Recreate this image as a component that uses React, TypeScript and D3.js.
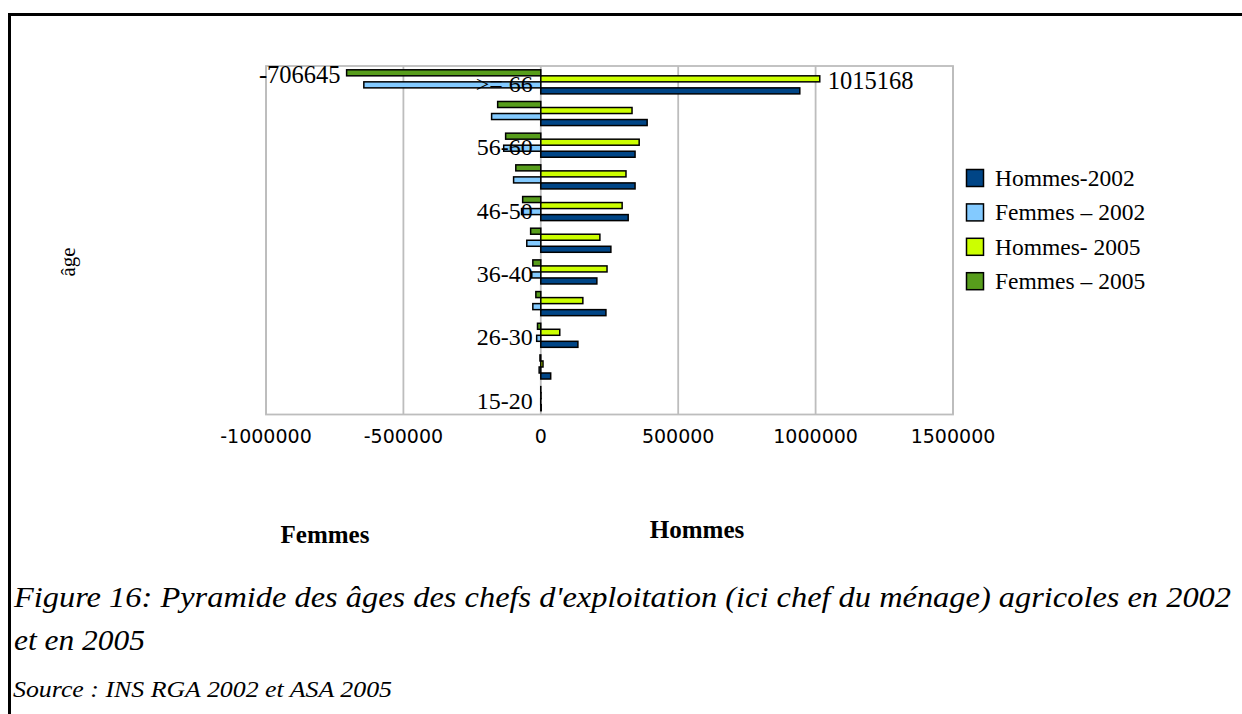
import React from 'react';
import * as d3 from 'd3';

const ageGroups = ['15-20', '21-25', '26-30', '31-35', '36-40', '41-45', '46-50', '51-55', '56-60', '61-65', '>= 66'];
const shownLabels = ['15-20', '26-30', '36-40', '46-50', '56-60', '>= 66'];
const hommes2002 = [1500, 36000, 135000, 237000, 204000, 255000, 318000, 343000, 343000, 387000, 942500];
const femmes2002 = [-300, -6000, -15000, -29000, -33000, -51000, -70000, -99000, -135000, -179000, -644000];
const hommes2005 = [800, 8000, 69000, 153000, 241000, 215000, 296000, 310000, 358000, 332000, 1015168];
const femmes2005 = [-200, -3000, -12000, -18000, -29000, -37000, -66000, -91000, -128000, -157000, -706645];
const xTicks = [-1000000, -500000, 0, 500000, 1000000, 1500000];
const seriesNames = ['Hommes-2002', 'Femmes – 2002', 'Hommes- 2005', 'Femmes – 2005'];
const seriesColors = ['#004586', '#83caff', '#ccff00', '#579d1c'];
const labelledPoints = [
  { series: 3, index: 10 },
  { series: 2, index: 10 },
];

const serif = '"Liberation Serif", "Times New Roman", serif';
const sans = '"DejaVu Sans", sans-serif';

export default function App() {
  const W = 1242;
  const H = 714;
  const series = [hommes2002, femmes2002, hommes2005, femmes2005];
  const x = d3.scaleLinear().domain([-1000000, 1500000]).range([266, 953]);
  const pIn = 0.24;
  const top = 66;
  const bottom = 414.5;
  const y = d3
    .scaleBand<string>()
    .domain([...ageGroups].reverse())
    .range([top, bottom])
    .paddingInner(pIn)
    .paddingOuter(pIn / 2);
  const inner = d3.scaleBand<number>().domain([3, 2, 1, 0]).range([0, y.bandwidth()]);

  return (
    <svg width={W} height={H} style={{ position: 'absolute', left: 0, top: 0 }}>
      <rect x={0} y={0} width={W} height={H} fill="#fff" />
      {/* page frame */}
      <path d={`M9.5,${H} V14.5 H${W}`} fill="none" stroke="#000" strokeWidth={3} />

      {/* gridlines & plot border */}
      {xTicks.map((t) => (
        <line key={t} x1={x(t)} x2={x(t)} y1={top} y2={bottom} stroke="#bdbdbd" strokeWidth={1.8} />
      ))}
      <rect x={x(-1000000)} y={top} width={x(1500000) - x(-1000000)} height={bottom - top} fill="none" stroke="#bdbdbd" strokeWidth={1.8} />

      {/* bars */}
      {series.map((vals, si) =>
        vals.map((v, i) => {
          const cat = ageGroups[i];
          const y0 = (y(cat) as number) + (inner(si) as number);
          const x0 = x(Math.min(0, v));
          const w = Math.abs(x(v) - x(0));
          return (
            <rect
              key={`${si}-${i}`}
              x={x0}
              y={y0}
              width={w}
              height={inner.bandwidth()}
              fill={seriesColors[si]}
              stroke="#000"
              strokeWidth={1.5}
            />
          );
        })
      )}

      {/* category labels */}
      {shownLabels.map((c) => (
        <text
          key={c}
          x={x(0) - 8}
          y={(y(c) as number) + y.bandwidth() / 2 + 10}
          textAnchor="end"
          fontFamily={serif}
          fontSize={24}
          fill="#000"
        >
          {c}
        </text>
      ))}

      {/* data labels */}
      {labelledPoints.map(({ series: si, index }) => {
        const v = series[si][index];
        const cy = (y(ageGroups[index]) as number) + (inner(si) as number) + inner.bandwidth() / 2;
        return (
          <text
            key={`l${si}`}
            x={v < 0 ? x(v) - 6 : x(v) + 8}
            y={cy + 10}
            textAnchor={v < 0 ? 'end' : 'start'}
            fontFamily={serif}
            fontSize={24.5}
            fill="#000"
          >
            {v}
          </text>
        );
      })}

      {/* x tick labels */}
      {xTicks.map((t) => (
        <text key={`t${t}`} x={x(t)} y={443} textAnchor="middle" fontFamily={sans} fontSize={19} fill="#000">
          {t}
        </text>
      ))}

      {/* axis titles */}
      <text transform="translate(75,262) rotate(-90)" textAnchor="middle" fontFamily={serif} fontSize={21} fill="#000">
        âge
      </text>
      <text x={325} y={543} textAnchor="middle" fontFamily={serif} fontSize={25} fontWeight="bold" fill="#000">
        Femmes
      </text>
      <text x={697} y={538} textAnchor="middle" fontFamily={serif} fontSize={25} fontWeight="bold" fill="#000">
        Hommes
      </text>

      {/* legend */}
      {seriesNames.map((n, i) => {
        const cy = 178 + i * 34.4;
        return (
          <g key={n}>
            <rect x={966.5} y={cy - 8.5} width={17} height={17} fill={seriesColors[i]} stroke="#000" strokeWidth={1.5} />
            <text x={995} y={cy + 8} fontFamily={serif} fontSize={23.5} fill="#000">
              {n}
            </text>
          </g>
        );
      })}

      {/* caption */}
      <text x={14} y={607} fontFamily={serif} fontSize={29} fontStyle="italic" fill="#000" textLength={1217} lengthAdjust="spacingAndGlyphs">
        Figure 16: Pyramide des âges des chefs d'exploitation (ici chef du ménage) agricoles en 2002
      </text>
      <text x={14} y={650} fontFamily={serif} fontSize={29} fontStyle="italic" fill="#000" textLength={131} lengthAdjust="spacingAndGlyphs">
        et en 2005
      </text>
      <text x={13} y={697} fontFamily={serif} fontSize={24} fontStyle="italic" fill="#000" textLength={379} lengthAdjust="spacingAndGlyphs">
        Source : INS RGA 2002 et ASA 2005
      </text>
    </svg>
  );
}
